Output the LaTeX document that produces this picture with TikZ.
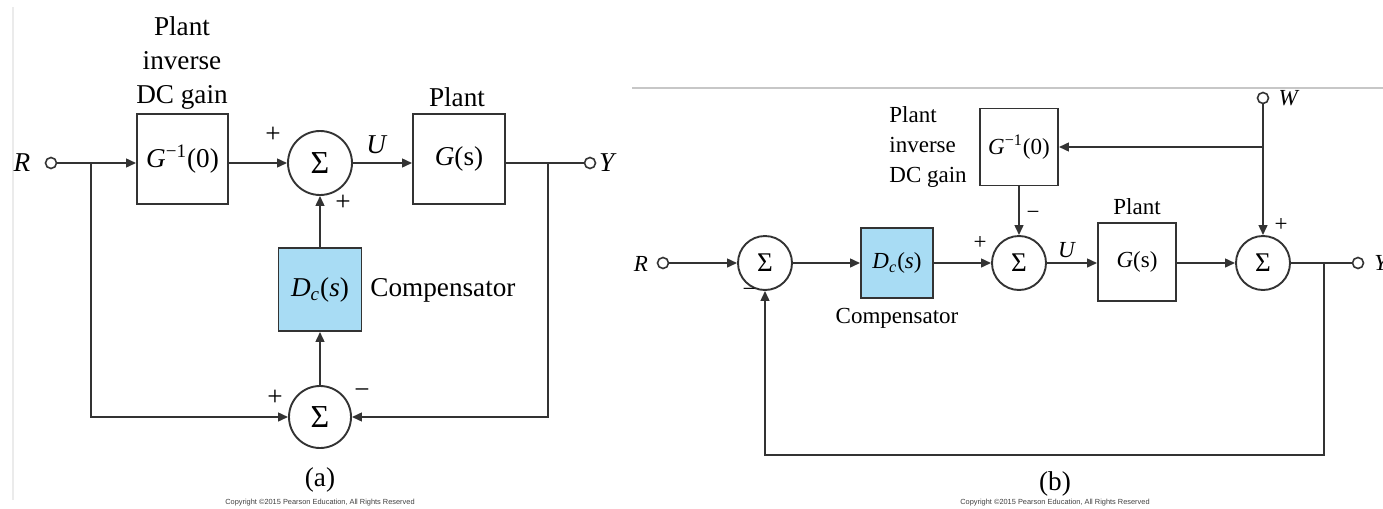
\documentclass[tikz,border=0pt]{standalone}
\usepackage{fontspec}
\setmainfont{Liberation Serif}
\newfontfamily\cpfont{Liberation Sans}
\usetikzlibrary{arrows.meta}
\definecolor{ln}{HTML}{333333}
\definecolor{comp}{HTML}{A8DCF4}
\begin{document}
\begin{tikzpicture}[x=0.5pt,y=-0.5pt,
  wire/.style={draw=ln,line width=0.95pt},
  arr/.style={wire,-{Triangle[length=5pt,width=4.4pt]}},
  blk/.style={draw=ln,line width=0.95pt,inner sep=0pt},
  sumA/.style={circle,draw=ln,line width=0.95pt,minimum size=32pt,inner sep=0pt,font=\fontsize{16}{16}\selectfont},
  sumB/.style={circle,draw=ln,line width=0.95pt,minimum size=27pt,inner sep=0pt,font=\fontsize{13.5}{13.5}\selectfont},
  term/.style={circle,draw=ln,line width=0.8pt,minimum size=5.5pt,inner sep=0pt},
  txtA/.style={font=\fontsize{13.6}{17}\selectfont,inner sep=0pt},
  txtB/.style={font=\fontsize{11.5}{14.8}\selectfont,inner sep=0pt},
  cpy/.style={font=\cpfont\fontsize{3.7}{4}\selectfont,text=black!75,inner sep=0pt},
]
\useasboundingbox (0,0) rectangle (1383,509);
% faint frame lines
\draw[black!8,line width=0.6pt] (13,7) -- (13,500);
\draw[black!22,line width=0.8pt] (632,88) -- (1383,88);

% ================= (a) =================
\node[txtA] (Rlab) at (22,163) {\textit{R}};
\node[term] (Rin) at (51,163) {};
\node[blk,minimum width=45.5pt,minimum height=45pt,txtA] (G1) at (182.5,159) {\textit{G}\textsuperscript{−1}(0)};
\node[txtA,align=center] (G1lab) at (182,63) {Plant\\inverse\\DC gain};
\node[sumA] (S1) at (320,163) {Σ};
\node[blk,minimum width=46pt,minimum height=45pt,txtA] (G) at (459,159) {\textit{G}(s)};
\node[txtA] (Plab) at (457,97) {Plant};
\node[term] (Yout) at (590,163) {};
\node[txtA] (Ylab) at (608,163) {\textit{Y}};
\node[blk,fill=comp,minimum width=41.5pt,minimum height=41.5pt,txtA] (Dc) at (320,289.5) {\textit{D}\textsubscript{\textit{c}}(\textit{s})};
\node[txtA] (Clab) at (443,290) {Compensator};
\node[sumA,minimum size=31pt] (S2) at (320,417) {Σ};
\node[txtA] (p1) at (273,135) {+};
\node[txtA] (Ulab) at (377,145) {\textit{U}};
\node[txtA] (p2) at (343,203) {+};
\node[txtA] (p3) at (275,398) {+};
\node[txtA] (m1) at (362,394) {−};
\node[txtA] (alab) at (320,480) {(a)};
\node[cpy] (cpa) at (320,503) {Copyright ©2015 Pearson Education, All Rights Reserved};

\coordinate (j1) at (91,163);
\coordinate (j2) at (548,163);
\draw[arr] (Rin) -- (Rin -| G1.west);
\draw[arr] (G1.east |- S1) -- (S1);
\draw[arr] (S1) -- (S1 -| G.west);
\draw[wire] (G.east |- S1) -- (Yout);
\draw[arr] (j1) |- (S2.west);
\draw[arr] (j2) |- (S2.east);
\draw[arr] (S2) -- (Dc);
\draw[arr] (Dc) -- (S1);

% ================= (b) =================
\node[txtB] (Rblab) at (641,264) {\textit{R}};
\node[term] (Rb) at (663,263) {};
\node[sumB] (S3) at (765,263) {Σ};
\node[blk,fill=comp,minimum width=36pt,minimum height=35pt,txtB] (Dc2) at (897,263) {\textit{D}\textsubscript{\textit{c}}(\textit{s})};
\node[txtB] (Clab2) at (897,318) {Compensator};
\node[blk,minimum width=39pt,minimum height=38.5pt,txtB] (G1b) at (1019,147) {\textit{G}\textsuperscript{−1}(0)};
\node[txtB,align=left,anchor=west] (G1blab) at (889,147) {Plant\\inverse\\DC gain};
\node[sumB] (S4) at (1019,263) {Σ};
\node[blk,minimum width=39pt,minimum height=39pt,txtB] (Gb) at (1137,262) {\textit{G}(s)};
\node[txtB] (Pblab) at (1137,207) {Plant};
\node[sumB] (S5) at (1263,263) {Σ};
\node[term] (Wt) at (1263,98) {};
\node[txtB] (Wlab) at (1289,98) {\textit{W}};
\node[term] (Yb) at (1358,263) {};
\node[txtB,anchor=west] (Yblab) at (1374,263) {\textit{Y}};
\node[txtB] (m2) at (749,292) {−};
\node[txtB] (p4) at (980,243) {+};
\node[txtB] (m3) at (1033,215) {−};
\node[txtB] (Ublab) at (1067,250) {\textit{U}};
\node[txtB] (p5) at (1281,225) {+};
\node[txtA] (blab) at (1055,484) {(b)};
\node[cpy] (cpb) at (1055,503) {Copyright ©2015 Pearson Education, All Rights Reserved};

\coordinate (j3) at (1324,263);
\coordinate (j4) at (1263,147);
\coordinate (fbR) at (1324,455);
\draw[arr] (Rb) -- (S3);
\draw[arr] (S3) -- (Dc2);
\draw[arr] (Dc2) -- (S4);
\draw[arr] (S4) -- (Gb.west |- S4);
\draw[arr] (Gb.east |- S5) -- (S5);
\draw[wire] (S5) -- (Yb);
\draw[arr] (j3) -- (fbR) -| (S3.south);
\draw[arr] (Wt) -- (S5);
\draw[arr] (j4) -- (G1b);
\draw[arr] (G1b) -- (S4);
\end{tikzpicture}
\end{document}
